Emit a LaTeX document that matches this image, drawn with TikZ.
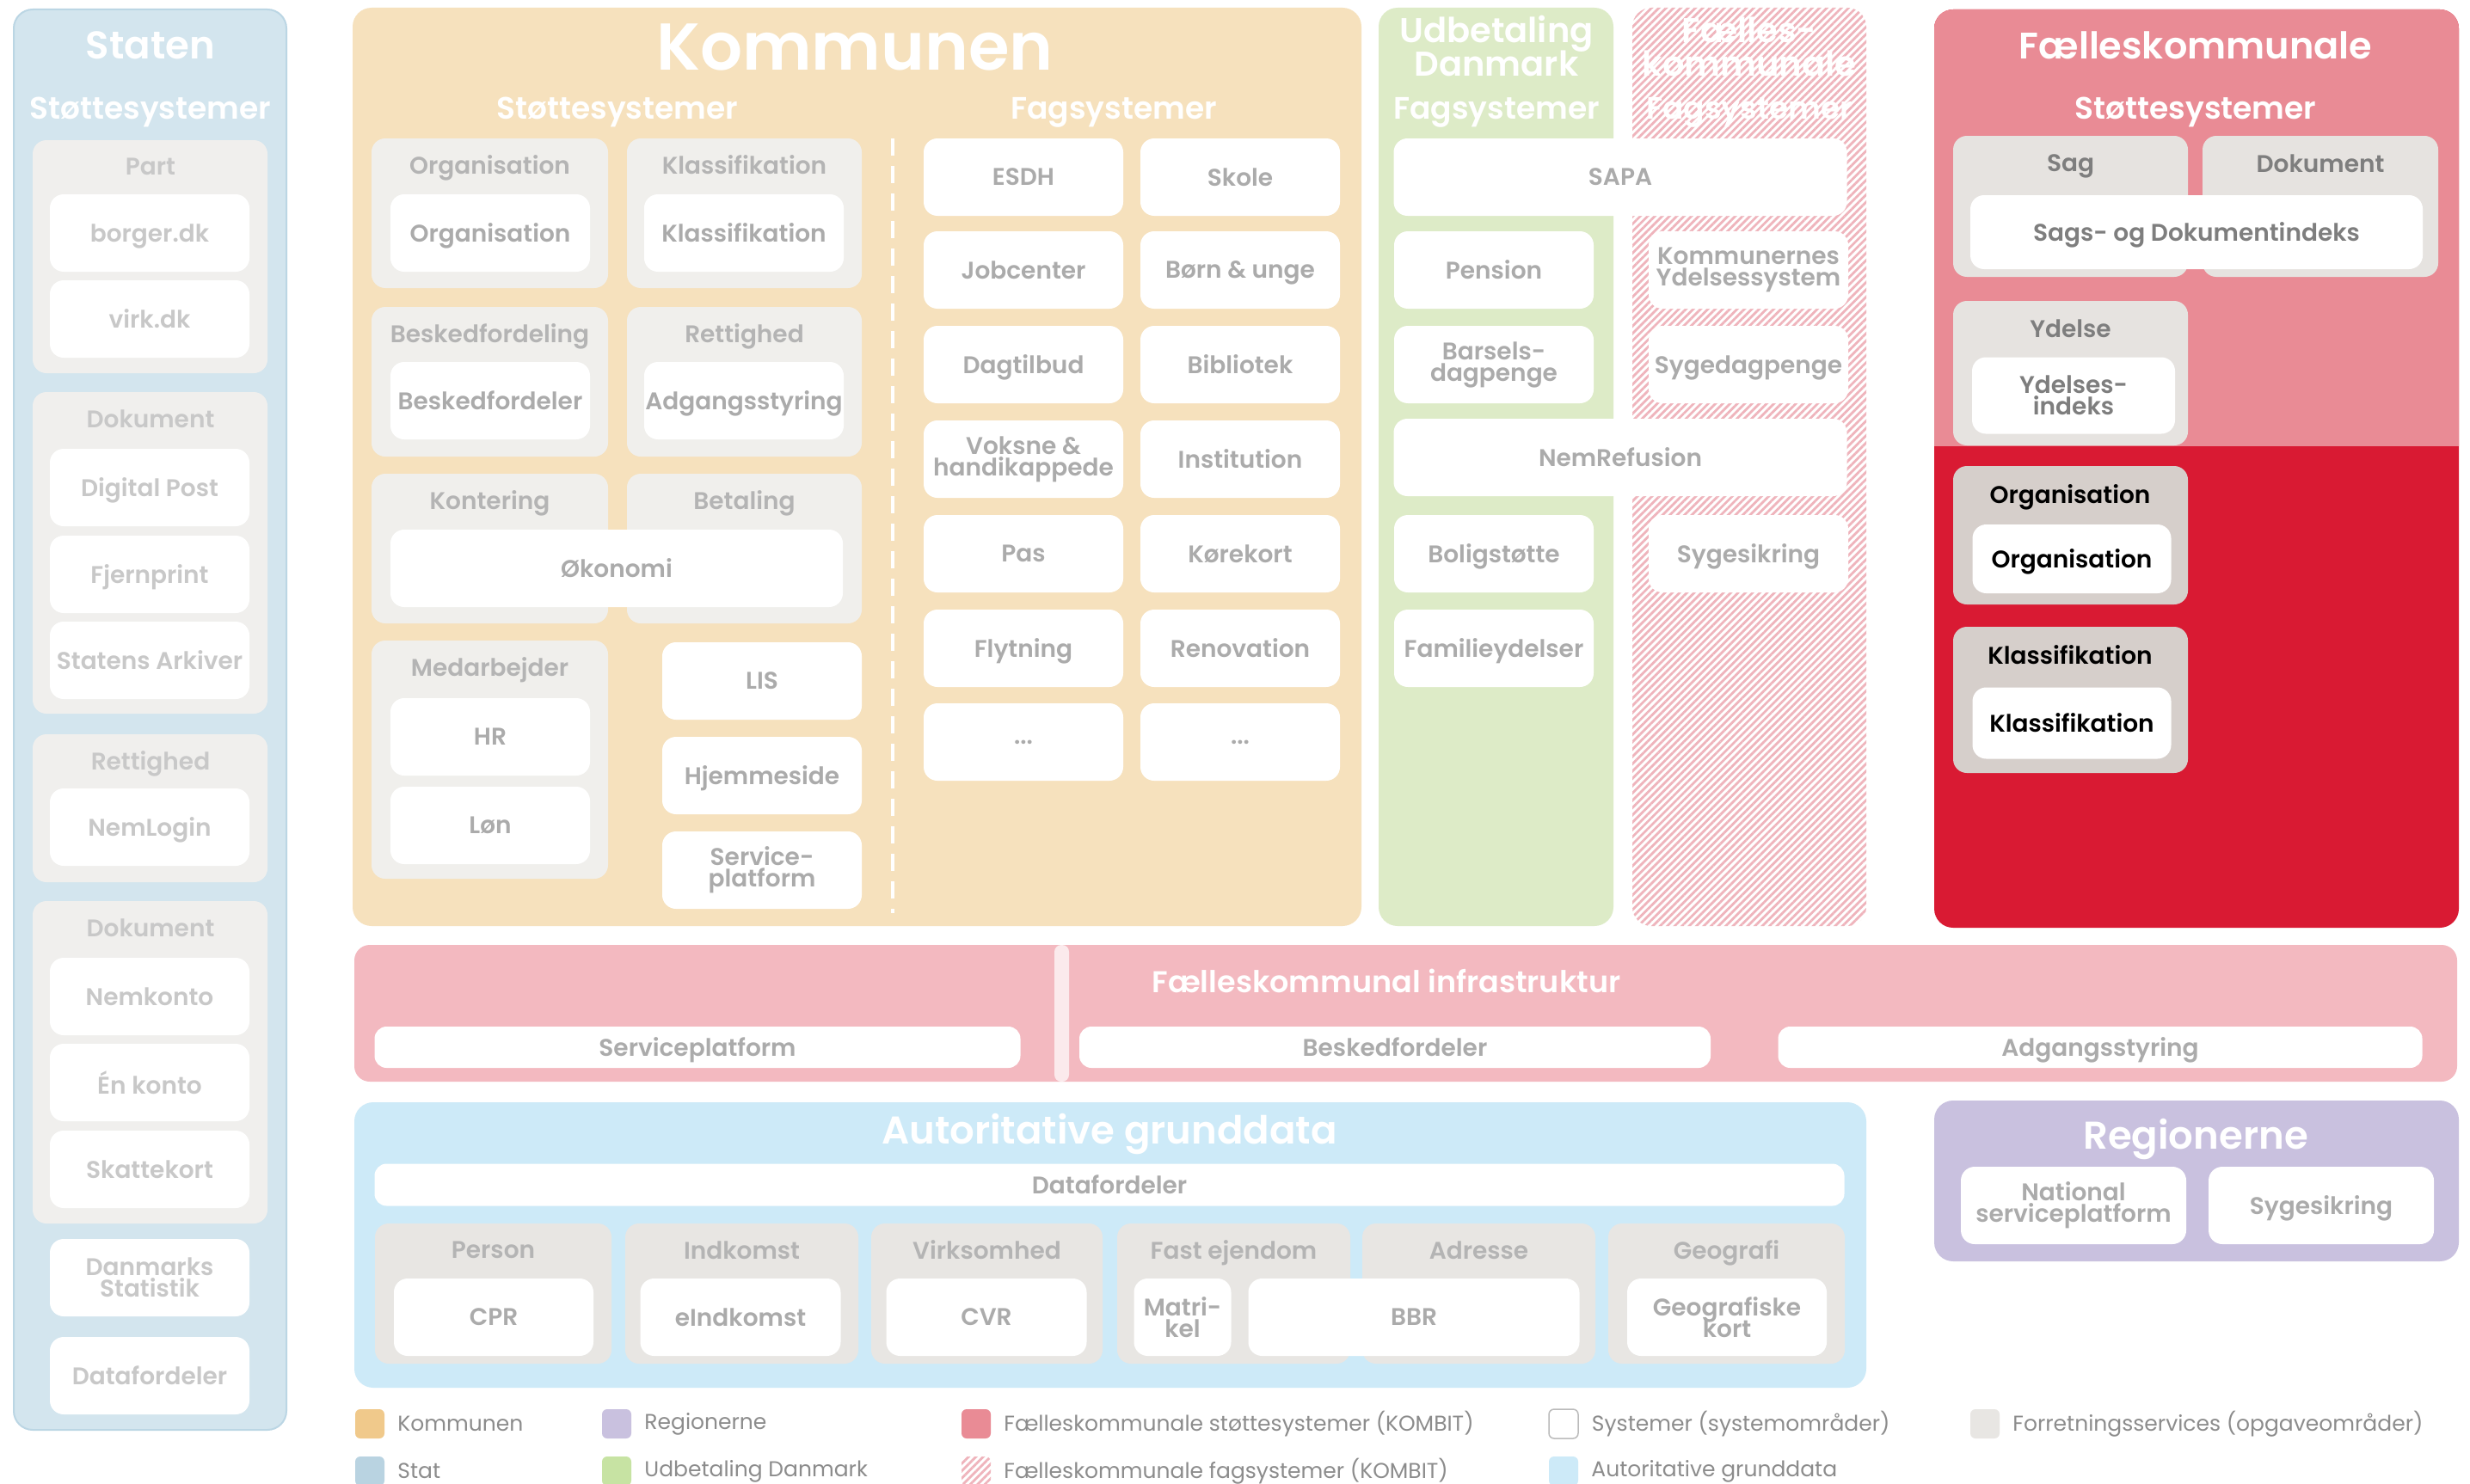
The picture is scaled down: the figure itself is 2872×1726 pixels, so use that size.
\documentclass[tikz,border=0pt]{standalone}
\usepackage{fontspec}
\setmainfont{Poppins}[BoldFont={Poppins SemiBold}]
\usetikzlibrary{patterns.meta}

\definecolor{statbg}{HTML}{D3E5EE}
\definecolor{statline}{HTML}{BBD6E4}
\definecolor{statgrp}{HTML}{F0EFED}
\definecolor{komm}{HTML}{F6E1BD}
\definecolor{kommgrp}{HTML}{F0EFEC}
\definecolor{udb}{HTML}{DDEBC7}
\definecolor{hatch}{HTML}{EFB4BC}
\definecolor{fkpink}{HTML}{E98B95}
\definecolor{fkred}{HTML}{D91A33}
\definecolor{fkgrp}{HTML}{E6E3E0}
\definecolor{fkgrpdark}{HTML}{D6CFCB}
\definecolor{infra}{HTML}{F3B9C0}
\definecolor{agd}{HTML}{CDEAF8}
\definecolor{agdgrp}{HTML}{E8E6E3}
\definecolor{reg}{HTML}{C9C1DF}
\definecolor{boxtxt}{HTML}{ABABAB}
\definecolor{lbltxt}{HTML}{B4B4B4}
\definecolor{stattxt}{HTML}{C8C8C8}
\definecolor{darktxt}{HTML}{7E7E7E}
\definecolor{legtxt}{HTML}{8C8C8C}
\definecolor{swkomm}{HTML}{F0C98B}
\definecolor{swstat}{HTML}{B9D3E1}
\definecolor{swudb}{HTML}{C7E3A3}
\definecolor{swline}{HTML}{BBBBBB}

\newcommand\boxfont{\fontsize{28}{25}\selectfont\lineskiplimit=-40pt\bfseries}
\newcommand\headfont{\fontsize{45}{45}\selectfont\bfseries}
\newcommand\subfont{\fontsize{36}{36}\selectfont\bfseries}
\newcommand\midheadfont{\fontsize{40}{39}\selectfont\lineskiplimit=-40pt\bfseries}
\newcommand\bigheadfont{\fontsize{77}{77}\selectfont\bfseries}
\newcommand\legfont{\fontsize{25}{25}\selectfont}

\begin{document}
\begin{tikzpicture}[x=1pt,y=-1pt]
  \tikzset{sys/.style={fill=white,rounded corners=16pt,inner sep=0pt,align=center,
      text=boxtxt,font=\boxfont,text depth=0pt,minimum width=232pt,minimum height=90pt},
    two/.style={text depth=},
    grp/.style={fill=kommgrp,rounded corners=16pt},
    grplbl/.style={text=lbltxt,font=\boxfont,text depth=0pt,inner sep=0pt},
    head/.style={text=white,font=\headfont,text depth=0pt,inner sep=0pt,align=center},
    sub/.style={text=white,font=\subfont,text depth=0pt,inner sep=0pt},
    hatched/.style={pattern={Lines[angle=45,distance=6pt,line width=2.8pt]},pattern color=hatch},
    swatch/.style={rounded corners=6pt,minimum size=34pt,inner sep=0pt},
    legtext/.style={anchor=west,text=legtxt,font=\legfont,inner sep=0pt}}
  \useasboundingbox (0,0) rectangle (2872,1726);
  \fill[white] (0,0) rectangle (2872,1726);

  % Staten
  \filldraw[fill=statbg,draw=statline,line width=2pt,rounded corners=22pt] (16,11) rectangle (333,1663);
  \node[head] (staten) at (175,53) {Staten};
  \node[sub] (statensub) at (175,126) {Støttesystemer};
  \foreach \nm/\txt/\ya/\yb in {spart/Part/163/434, sdok/Dokument/456/830,
      sret/Rettighed/854/1026, sdokb/Dokument/1048/1423}{
    \fill[grp,fill=statgrp] (38,\ya) rectangle (311,\yb);
    \node[grplbl,text=stattxt] (\nm) at (175,\ya+31) {\txt};
  }
  \foreach \nm/\txt/\cy in {borger/borger.dk/271, virkdk/virk.dk/371, digpost/Digital Post/567,
      fjern/Fjernprint/668, arkiv/Statens Arkiver/768, nemlogin/NemLogin/962,
      nemkonto/Nemkonto/1159, enkonto/Én konto/1259, skat/Skattekort/1360,
      sdataf/Datafordeler/1600}
    \node[sys,text=stattxt] (\nm) at (174,\cy) {\txt};
  \node[sys,two,text=stattxt] (dst) at (174,1486) {Danmarks\\Statistik};

  % Kommunen
  \fill[komm,rounded corners=22pt] (410,9) rectangle (1583,1077);
  \node[head,font=\bigheadfont] (kommunen) at (994,55) {Kommunen};
  \node[sub] (kstotte) at (718,126) {Støttesystemer};
  \node[sub] (kfag) at (1295,126) {Fagsystemer};
  \coordinate (divtop) at (1038,161);
  \coordinate (divbot) at (1038,1062);
  \draw[white,line width=4pt,dash pattern=on 20pt off 12pt] (divtop) -- (divbot);
  \foreach \nm/\txt/\xa/\ya/\xb/\yb in {korg/Organisation/432/161/707/335,
      kkla/Klassifikation/729/161/1002/335, kbes/Beskedfordeling/432/357/707/531,
      kret/Rettighed/729/357/1002/531, kkon/Kontering/432/551/707/725,
      kbet/Betaling/729/551/1002/725, kmed/Medarbejder/432/745/707/1022}{
    \fill[grp] (\xa,\ya) rectangle (\xb,\yb);
    \node[grplbl] (\nm) at ({(\xa+\xb)/2},\ya+31) {\txt};
  }
  \foreach \nm/\txt/\cx/\cy in {orgsys/Organisation/570/271, klasys/Klassifikation/865/271,
      besksys/Beskedfordeler/570/466, adgsys/Adgangsstyring/865/466,
      hr/HR/570/857, loen/Løn/570/960, lis/LIS/886/792, hjem/Hjemmeside/886/902}
    \node[sys] (\nm) at (\cx,\cy) {\txt};
  \node[sys,two] (servp) at (886,1012) {Service-\\platform};
  \node[sys,minimum width=526pt] (oekonomi) at (717,661) {Økonomi};
  \foreach \nm/\txt/\cx/\cy in {esdh/ESDH/1190/206, skole/Skole/1442/206,
      job/Jobcenter/1190/314, boern/Børn \& unge/1442/314,
      dagt/Dagtilbud/1190/424, bibl/Bibliotek/1442/424,
      inst/Institution/1442/534,
      pas/Pas/1190/644, koer/Kørekort/1442/644,
      flyt/Flytning/1190/754, renov/Renovation/1442/754}
    \node[sys] (\nm) at (\cx,\cy) {\txt};
  \node[sys,two] (voksne) at (1190,534) {Voksne \&\\handikappede};
  \node[sys] (mereA) at (1190,863) {...};
  \node[sys] (mereB) at (1442,863) {...};

  % Udbetaling Danmark og faelleskommunale fagsystemer
  \fill[udb,rounded corners=22pt] (1603,9) rectangle (1876,1077);
  \node[head,two,font=\midheadfont] (udbtitle) at (1740,54) {Udbetaling\\Danmark};
  \node[sub] (udbfag) at (1740,126) {Fagsystemer};
  \fill[hatched,rounded corners=22pt] (1898,9) rectangle (2170,1077);
  \node[head,two,font=\midheadfont] (fkftitle) at (2034,54) {Fælles-\\kommunale};
  \node[sub] (fkfag) at (2034,126) {Fagsystemer};
  \node[sys,minimum width=527pt] (sapa) at (1884,206) {SAPA};
  \node[sys,minimum width=527pt] (nemref) at (1884,532) {NemRefusion};
  \foreach \nm/\txt/\cx/\cy in {pension/Pension/1737/314,
      sygedag/Sygedagpenge/2033/424, bolig/Boligstøtte/1737/644,
      sygesik/Sygesikring/2033/644, familie/Familieydelser/1737/754}
    \node[sys] (\nm) at (\cx,\cy) {\txt};
  \node[sys,two] (kys) at (2033,314) {Kommunernes\\Ydelsessystem};
  \node[sys,two] (barsel) at (1737,424) {Barsels-\\dagpenge};

  % Faelleskommunale stottesystemer
  \fill[fkred,rounded corners=22pt] (2249,11) rectangle (2859,1079);
  \begin{scope}
    \clip (2249,0) rectangle (2859,518);
    \fill[fkpink,rounded corners=22pt] (2249,11) rectangle (2859,1079);
  \end{scope}
  \node[head,font=\fontsize{43}{43}\selectfont\bfseries] (fktitle) at (2553,53) {Fælleskommunale};
  \node[sub] (fkstotte) at (2553,126) {Støttesystemer};
  \foreach \nm/\txt/\xa/\ya/\xb/\yb in {fsag/Sag/2271/158/2544/322,
      fdok/Dokument/2561/158/2835/322, fydelse/Ydelse/2271/350/2544/518}{
    \fill[grp,fill=fkgrp] (\xa,\ya) rectangle (\xb,\yb);
    \node[grplbl,text=darktxt] (\nm) at ({(\xa+\xb)/2},\ya+32) {\txt};
  }
  \foreach \nm/\txt/\ya/\yb in {forg/Organisation/542/703, fkla/Klassifikation/729/899}{
    \fill[grp,fill=fkgrpdark] (2271,\ya) rectangle (2544,\yb);
    \node[grplbl,text=black] (\nm) at (2407,\ya+33) {\txt};
  }
  \node[sys,text=darktxt,minimum width=526pt,minimum height=86pt] (sdi) at (2554,270) {Sags- og Dokumentindeks};
  \node[sys,two,text=darktxt,minimum width=236pt,minimum height=89pt] (ydi) at (2411,460) {Ydelses-\\indeks};
  \node[sys,text=black,minimum width=231pt,minimum height=80pt] (fkorgsys) at (2409,650) {Organisation};
  \node[sys,text=black,minimum width=231pt,minimum height=83pt] (fkklasys) at (2409,841) {Klassifikation};

  % Faelleskommunal infrastruktur
  \fill[infra,rounded corners=18pt] (412,1099) rectangle (2857,1258);
  \fill[white,opacity=.7,rounded corners=8pt] (1226,1099) rectangle (1243,1258);
  \node[sub,font=\fontsize{35}{35}\selectfont\bfseries] (infratitle) at (1612,1141) {Fælleskommunal infrastruktur};
  \node[sys,rounded corners=14pt,minimum width=751pt,minimum height=48pt] (isp) at (811,1218) {Serviceplatform};
  \node[sys,rounded corners=14pt,minimum width=734pt,minimum height=48pt] (ibf) at (1622,1218) {Beskedfordeler};
  \node[sys,rounded corners=14pt,minimum width=749pt,minimum height=48pt] (iadg) at (2442,1218) {Adgangsstyring};

  % Autoritative grunddata
  \fill[agd,rounded corners=22pt] (412,1282) rectangle (2170,1614);
  \node[head] (agdtitle) at (1290,1313) {Autoritative grunddata};
  \node[sys,rounded corners=14pt,minimum width=1709pt,minimum height=49pt] (adataf) at (1290,1378) {Datafordeler};
  \foreach \nm/\txt/\xa/\xb in {gperson/Person/436/711, gindk/Indkomst/727/998,
      gvirk/Virksomhed/1013/1282, gfast/Fast ejendom/1299/1570,
      gadr/Adresse/1584/1855, ggeo/Geografi/1870/2145}{
    \fill[grp,fill=agdgrp] (\xa,1423) rectangle (\xb,1586);
    \node[grplbl] (\nm) at ({(\xa+\xb)/2},1454) {\txt};
  }
  \foreach \nm/\txt/\cx/\w in {cpr/CPR/574/232, eind/eIndkomst/861/233, cvr/CVR/1147/233,
      bbr/BBR/1644/385}
    \node[sys,minimum width=\w pt] (\nm) at (\cx,1532) {\txt};
  \node[sys,two,minimum width=113pt] (matr) at (1375,1532) {Matri-\\kel};
  \node[sys,two] (geokort) at (2008,1532) {Geografiske\\kort};

  % Regionerne
  \fill[reg,rounded corners=22pt] (2249,1280) rectangle (2859,1467);
  \node[head] (regtitle) at (2553,1319) {Regionerne};
  \node[sys,two,minimum width=262pt] (nsp) at (2411,1402) {National\\serviceplatform};
  \node[sys,minimum width=262pt] (regsyg) at (2699,1402) {Sygesikring};

  % Legend
  \foreach \nm/\col/\cx/\cy/\txt in {lkomm/swkomm/430/1656/Kommunen,
      lreg/reg/717/1656/Regionerne,
      lfks/fkpink/1135/1656/Fælleskommunale støttesystemer (KOMBIT),
      lforr/agdgrp/2308/1656/Forretningsservices (opgaveområder),
      lstat/swstat/430/1711/Stat, ludb/swudb/717/1711/Udbetaling Danmark,
      lagd/agd/1818/1711/Autoritative grunddata}{
    \node[swatch,fill=\col] (\nm) at (\cx,\cy) {};
    \node[legtext] (\nm txt) at ([xshift=15pt]\nm.east) {\txt};
  }
  \node[swatch,draw=swline,line width=1.5pt,fill=white] (lsys) at (1818,1656) {};
  \node[legtext] (lsystxt) at ([xshift=15pt]lsys.east) {Systemer (systemområder)};
  \node[swatch,hatched] (lfkf) at (1135,1711) {};
  \node[legtext] (lfkftxt) at ([xshift=15pt]lfkf.east) {Fælleskommunale fagsystemer (KOMBIT)};
\end{tikzpicture}
\end{document}
